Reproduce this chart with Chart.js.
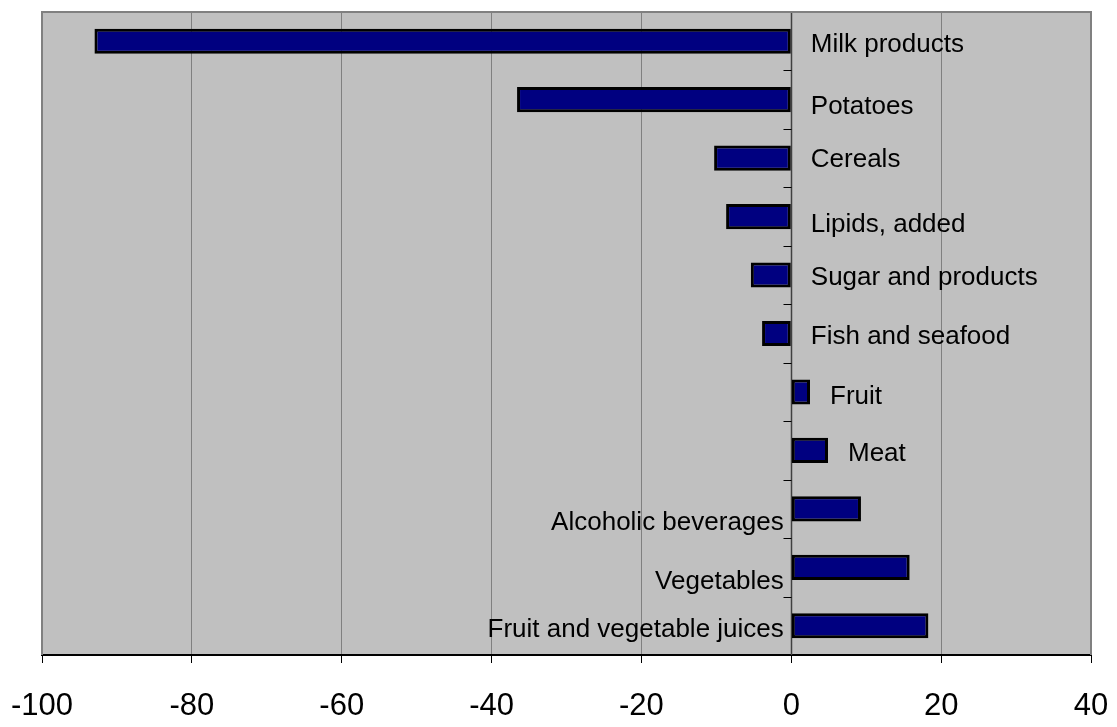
<!DOCTYPE html>
<html>
<head>
<meta charset="utf-8">
<script src="https://cdn.jsdelivr.net/npm/chart.js@4/dist/chart.umd.min.js"></script>
<style>
  html, body { margin: 0; padding: 0; background: #ffffff; }
  #wrap { width: 1117px; height: 727px; }
</style>
</head>
<body>
<div id="wrap"><canvas id="c" width="1117" height="727"></canvas></div>
<script>
// Food groups, top to bottom
const categories = [
  'Milk products', 'Potatoes', 'Cereals', 'Lipids, added', 'Sugar and products',
  'Fish and seafood', 'Fruit', 'Meat', 'Alcoholic beverages', 'Vegetables',
  'Fruit and vegetable juices'
];
// Change per food group
const changes = [-93, -36.6, -10.3, -8.7, -5.4, -3.9, 2.5, 4.9, 9.3, 15.8, 18.3];
// Horizontal axis tick values
const xTicks = [-100, -80, -60, -40, -20, 0, 20, 40];

// Label placement: 'after' = right of the bar/zero line, 'before' = left of the zero line
const labelSide = ['after', 'after', 'after', 'after', 'after', 'after', 'after', 'after', 'before', 'before', 'before'];
const labelNudge = [4, 7, 2, 8, 3, 3, 5, 3, 14, 15, 4];

const FONT = '"Liberation Sans", Arial, Helvetica, sans-serif';

const plotFrame = {
  id: 'plotFrame',
  beforeDraw(chart) {
    const { ctx, chartArea: a } = chart;
    ctx.save();
    ctx.fillStyle = '#c0c0c0';
    ctx.fillRect(a.left, a.top, a.right - a.left, a.bottom - a.top);
    ctx.restore();
  },
  beforeDatasetsDraw(chart) {
    const { ctx, chartArea: a, scales } = chart;
    const x0 = Math.round(scales.x.getPixelForValue(0)) + 0.5;
    const n = categories.length;
    const slot = (a.bottom - a.top) / n;
    ctx.save();
    // zero axis line
    ctx.strokeStyle = '#404040';
    ctx.lineWidth = 1.5;
    ctx.beginPath();
    ctx.moveTo(x0, a.top);
    ctx.lineTo(x0, a.bottom);
    ctx.stroke();
    // category boundary tick marks on the zero axis
    ctx.strokeStyle = '#000000';
    ctx.lineWidth = 1;
    for (let i = 0; i <= n; i++) {
      const y = Math.round(a.top + i * slot) + 0.5;
      ctx.beginPath();
      ctx.moveTo(x0 - 8, y);
      ctx.lineTo(x0, y);
      ctx.stroke();
    }
    ctx.restore();
  },
  afterDraw(chart) {
    const { ctx, chartArea: a } = chart;
    ctx.save();
    ctx.strokeStyle = '#808080';
    ctx.lineWidth = 2;
    ctx.beginPath();
    ctx.moveTo(a.left, a.bottom);
    ctx.lineTo(a.left, a.top);
    ctx.lineTo(a.right, a.top);
    ctx.lineTo(a.right, a.bottom);
    ctx.stroke();
    ctx.restore();
  }
};

const barLabels = {
  id: 'barLabels',
  afterDatasetsDraw(chart) {
    const { ctx } = chart;
    const meta = chart.getDatasetMeta(0);
    ctx.save();
    ctx.font = '26px ' + FONT;
    ctx.fillStyle = '#000000';
    ctx.textBaseline = 'middle';
    meta.data.forEach((bar, i) => {
      const y = bar.y + labelNudge[i];
      if (labelSide[i] === 'before') {
        ctx.textAlign = 'right';
        ctx.fillText(categories[i], Math.min(bar.x, bar.base) - 8, y);
      } else {
        ctx.textAlign = 'left';
        ctx.fillText(categories[i], Math.max(bar.x, bar.base) + 20, y);
      }
    });
    ctx.restore();
  }
};

new Chart(document.getElementById('c'), {
  type: 'bar',
  data: {
    labels: categories,
    datasets: [{
      data: changes,
      backgroundColor: '#000080',
      borderColor: '#000000',
      borderWidth: 3,
      borderSkipped: false,
      categoryPercentage: 1,
      barPercentage: 0.43
    }]
  },
  options: {
    indexAxis: 'y',
    responsive: false,
    animation: false,
    devicePixelRatio: 1,
    layout: { padding: { left: 42, right: 26, top: 12, bottom: 2 } },
    plugins: {
      legend: { display: false },
      tooltip: { enabled: false }
    },
    scales: {
      x: {
        type: 'linear',
        min: -100,
        max: 40,
        afterBuildTicks: (s) => { s.ticks = xTicks.map(v => ({ value: v })); },
        afterFit: (s) => {
          s.height = 70;
          s.paddingLeft = 0;
          s.paddingRight = 0;
          s.paddingTop = 0;
          s.paddingBottom = 0;
        },
        grid: {
          color: '#808080',
          lineWidth: 1,
          tickLength: 8,
          tickColor: '#000000',
          tickWidth: 1
        },
        border: { color: '#000000', width: 2 },
        ticks: {
          color: '#000000',
          font: { family: FONT, size: 31 },
          padding: 25,
          maxRotation: 0,
          autoSkip: false
        }
      },
      y: {
        type: 'category',
        display: false
      }
    }
  },
  plugins: [plotFrame, barLabels]
});
</script>
</body>
</html>
